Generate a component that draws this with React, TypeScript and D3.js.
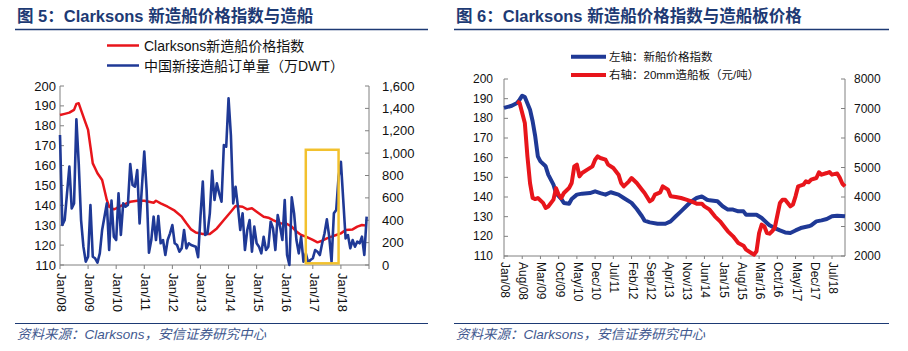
import React from "react";
import * as d3 from "d3";

type Pt = [number, number];

const SANS = "'Liberation Sans', Arial, 'Noto Sans CJK SC', sans-serif";
const NAVY = "#1d3a74";
const RED = "#e8151b";
const BLUE = "#1f3996";
const AXIS = "#808080";

// months are counted from Jan 2008 (0 = Jan/08)

// ---- 图 5 ----
const yearLabels = ["Jan/08", "Jan/09", "Jan/10", "Jan/11", "Jan/12", "Jan/13", "Jan/14", "Jan/15", "Jan/16", "Jan/17", "Jan/18"];
const indexTicks5 = [110, 120, 130, 140, 150, 160, 170, 180, 190, 200];
const orderTicks = [0, 200, 400, 600, 800, 1000, 1200, 1400, 1600];

const clarksons5: Pt[] = [
  [0, 185.4], [2, 186], [4, 186.6], [6, 188], [7, 191], [8, 191.3], [9, 187.9], [11, 181.2], [12, 177.9],
  [13, 169.5], [14, 161.1], [15, 158.6], [16, 156.1], [18, 152.7], [19, 147.7], [20, 142.7], [21, 139.3],
  [23, 138], [24, 138.5], [26, 139.7], [28, 140.7], [30, 141.8], [33, 142.3], [36, 142.3], [38, 141.8],
  [40, 141.3], [41, 142.3], [43, 141], [46, 139.3], [49, 137.3], [52, 134.3], [54, 131], [56, 127.9],
  [58, 126.3], [61, 125.6], [64, 125.6], [67, 128.4], [70, 132.6], [73, 136.8], [75, 139.7], [78, 139.3],
  [80, 138], [82, 138.5], [84, 136.8], [87, 134.3], [89, 133.8], [91, 132.6], [94, 131], [97, 130.6],
  [99, 129.3], [101, 126.8], [103, 125.1], [105, 124.3], [108, 122.6], [110, 121.4], [112, 122.2],
  [114, 123.4], [116, 124.3], [118, 125.1], [120, 125.9], [122, 127.6], [125, 127.9], [127, 129.3],
  [129, 130.1], [131, 129.8],
];

const chinaOrders: Pt[] = [
  [0, 1162], [1, 357], [2, 402], [4, 879], [5, 506], [6, 551], [7, 1302], [8, 908], [9, 402], [10, 164],
  [11, 30], [12, 74], [13, 536], [14, 74], [15, 60], [16, 21], [17, 104], [18, 313], [20, 551], [21, 134],
  [22, 575], [23, 253], [24, 223], [25, 640], [26, 268], [27, 551], [28, 521], [29, 536], [30, 903],
  [31, 715], [32, 700], [33, 849], [34, 372], [35, 700], [36, 1013], [37, 670], [38, 110], [39, 223],
  [40, 432], [41, 223], [42, 438], [43, 194], [44, 223], [45, 89], [46, 223], [47, 283], [48, 357],
  [49, 194], [50, 179], [51, 119], [52, 149], [53, 313], [54, 149], [55, 194], [56, 179], [58, 164],
  [59, 69], [60, 432], [61, 745], [62, 268], [63, 283], [64, 462], [65, 843], [66, 581], [67, 730],
  [68, 640], [69, 566], [70, 1072], [71, 1057], [72, 1489], [73, 1162], [74, 551], [75, 700], [76, 521],
  [77, 313], [78, 462], [79, 134], [80, 313], [81, 402], [82, 119], [83, 343], [84, 194], [85, 164],
  [86, 104], [87, 253], [88, 134], [89, 164], [90, 387], [91, 328], [92, 134], [93, 447], [94, 343],
  [95, 223], [96, 581], [97, 89], [98, 0], [99, 605], [100, 462], [101, 223], [102, 104], [103, 253],
  [104, 30], [105, 104], [106, 21], [107, 45], [108, 60], [109, 134], [110, 119], [111, 89], [112, 194],
  [113, 283], [114, 408], [115, 253], [116, 30], [117, 462], [118, 492], [119, 789], [120, 923],
  [121, 581], [122, 238], [123, 268], [124, 149], [125, 223], [126, 164], [127, 209], [128, 194],
  [129, 253], [130, 89], [131, 432],
];

const highlight = { from: 105, to: 119, top: 1030, bottom: 15 };

// ---- 图 6 ----
const monthLabels6 = ["Jan/08", "Aug/08", "Mar/09", "Oct/09", "May/10", "Dec/10", "Jul/11", "Feb/12", "Sep/12", "Apr/13", "Nov/13", "Jun/14", "Jan/15", "Aug/15", "Mar/16", "Oct/16", "May/17", "Dec/17", "Jul/18"];
const indexTicks6 = [110, 120, 130, 140, 150, 160, 170, 180, 190, 200];
const plateTicks = [2000, 3000, 4000, 5000, 6000, 7000, 8000];

const clarksons6: Pt[] = [
  [0, 185.3], [3, 186.4], [5, 187.8], [6, 189.5], [7, 191.5], [8, 190.8], [10, 184.4], [11, 178.5],
  [12, 170.8], [13, 160.7], [14, 158.1], [16, 155.6], [17, 151.4], [19, 146.3], [20, 142], [22, 139],
  [23, 137], [25, 136.6], [26, 139], [28, 141.2], [30, 141.7], [33, 142], [35, 142.9], [37, 142],
  [39, 141.2], [41, 142.4], [44, 141.2], [46, 139.5], [49, 137], [51, 133.9], [53, 130.2], [54, 128],
  [56, 127.1], [59, 126.4], [62, 126.4], [64, 127.6], [66, 130.2], [68, 132.7], [70, 135.3], [72, 137.8],
  [74, 139.5], [76, 140.3], [78, 138.6], [79, 138.3], [82, 137.8], [84, 135.3], [86, 133.6], [88, 133.6],
  [90, 132.7], [92, 132.7], [93, 131], [95, 131], [97, 131], [99, 129.3], [101, 126.8], [102, 125.6],
  [104, 124.2], [106, 123], [108, 122], [110, 121.7], [112, 123], [114, 124.2], [117, 125.1], [118, 125.6],
  [120, 127.6], [122, 128.1], [124, 128.8], [126, 130.2], [128, 130.5], [131, 130.2],
];

const plate20mm: Pt[] = [
  [5, 7240], [6, 7190], [7, 6850], [8, 6510], [9, 5380], [10, 4470], [11, 3970], [12, 3930], [13, 3966],
  [15, 3800], [16, 3630], [17, 3680], [19, 3910], [20, 4300], [21, 4080], [22, 3966], [23, 4136],
  [25, 4305], [26, 4474], [27, 5039], [28, 5096], [29, 4700], [30, 4813], [32, 4926], [34, 5039],
  [35, 5265], [36, 5378], [37, 5322], [39, 5265], [40, 5096], [42, 4983], [44, 4757], [45, 4474],
  [46, 4361], [48, 4531], [49, 4644], [51, 4474], [53, 4248], [54, 4136], [56, 3853], [57, 3909],
  [58, 4079], [60, 4158], [61, 4361], [63, 4248], [64, 4022], [66, 4000], [68, 3966], [70, 3909],
  [72, 3853], [74, 3774], [76, 3774], [77, 3683], [79, 3570], [81, 3344], [83, 3175], [85, 2949],
  [86, 2836], [88, 2666], [90, 2440], [92, 2350], [93, 2214], [95, 2101], [96, 2045], [97, 2160],
  [98, 2779], [99, 3062], [100, 3006], [101, 2779], [102, 2757], [103, 2836], [104, 2949], [106, 3796],
  [107, 3909], [108, 3909], [110, 3683], [111, 3740], [112, 4022], [113, 4361], [115, 4418], [116, 4531],
  [117, 4497], [118, 4587], [120, 4644], [121, 4836], [122, 4757], [124, 4813], [125, 4847], [126, 4757],
  [128, 4800], [129, 4650], [130, 4450], [131, 4360],
];

function Header({ x, w, title }: { x: number; w: number; title: string }) {
  return (
    <g>
      <text x={x + 2} y={22} fontFamily={SANS} fontWeight="bold" fontSize={16.5} fill={NAVY}>{title}</text>
      <line x1={x} x2={x + w} y1={29.5} y2={29.5} stroke={NAVY} strokeWidth={1.5} />
      <line x1={x} x2={x + w} y1={323.5} y2={323.5} stroke={NAVY} strokeWidth={1.2} />
      <text x={x + 2} y={339} fontFamily={SANS} fontStyle="italic" fontSize={13.5} fill="#42598f">
        资料来源：Clarksons，安信证券研究中心
      </text>
    </g>
  );
}

function Chart5() {
  const x = d3.scaleLinear().domain([0, 132]).range([60, 369]);
  const yL = d3.scaleLinear().domain([110, 200]).range([265, 86]);
  const yR = d3.scaleLinear().domain([0, 1600]).range([265, 86]);
  const redLine = d3.line<Pt>().x((d) => x(d[0])).y((d) => yL(d[1]));
  const blueLine = d3.line<Pt>().x((d) => x(d[0])).y((d) => yR(d[1]));
  const ticksX = d3.range(0, 133, 12);
  return (
    <g fontFamily={SANS}>
      <Header x={15} w={413} title="图 5：Clarksons 新造船价格指数与造船" />
      {/* legend */}
      <line x1={107} x2={139} y1={45.5} y2={45.5} stroke={RED} strokeWidth={2.5} />
      <text x={144} y={45.5} dominantBaseline="central" fontSize={14} fill="#111">Clarksons新造船价格指数</text>
      <line x1={107} x2={139} y1={65.5} y2={65.5} stroke={BLUE} strokeWidth={2.5} />
      <text x={144} y={65.5} dominantBaseline="central" fontSize={14} fill="#111">中国新接造船订单量（万DWT）</text>
      {/* axes */}
      <line x1={x(0)} x2={x(0)} y1={86} y2={265} stroke={AXIS} />
      <line x1={x(132)} x2={x(132)} y1={86} y2={265} stroke={AXIS} />
      <line x1={x(0)} x2={x(132)} y1={265} y2={265} stroke={AXIS} />
      {indexTicks5.map((t) => (
        <g key={t}>
          <line x1={x(0)} x2={x(0) + 4} y1={yL(t)} y2={yL(t)} stroke={AXIS} />
          <text x={56} y={yL(t)} textAnchor="end" dominantBaseline="central" fontSize={13} fill="#111">{t}</text>
        </g>
      ))}
      {orderTicks.map((t) => (
        <g key={t}>
          <line x1={x(132) - 4} x2={x(132)} y1={yR(t)} y2={yR(t)} stroke={AXIS} />
          <text x={382} y={yR(t)} dominantBaseline="central" fontSize={13} fill="#111">{d3.format(",")(t)}</text>
        </g>
      ))}
      {ticksX.map((m, i) => (
        <g key={m}>
          <line x1={x(m)} x2={x(m)} y1={265} y2={269} stroke={AXIS} />
          {yearLabels[i] && (
            <text transform={`translate(${x(m) + 1.5},273) rotate(90)`} dominantBaseline="central" fontSize={13} fill="#111">
              {yearLabels[i]}
            </text>
          )}
        </g>
      ))}
      <path d={redLine(clarksons5) || ""} fill="none" stroke={RED} strokeWidth={2.5} strokeLinejoin="round" />
      <path d={blueLine(chinaOrders) || ""} fill="none" stroke={BLUE} strokeWidth={2.6} strokeLinejoin="round" />
      <rect
        x={x(highlight.from)}
        y={yR(highlight.top)}
        width={x(highlight.to) - x(highlight.from)}
        height={yR(highlight.bottom) - yR(highlight.top)}
        fill="none"
        stroke="#f2c12e"
        strokeWidth={2.5}
      />
    </g>
  );
}

function Chart6() {
  const x = d3.scaleLinear().domain([0, 131]).range([504, 845]);
  const yL = d3.scaleLinear().domain([110, 200]).range([256, 79]);
  const yR = d3.scaleLinear().domain([2000, 8000]).range([256, 79]);
  const blueLine = d3.line<Pt>().x((d) => x(d[0])).y((d) => yL(d[1]));
  const redLine = d3.line<Pt>().x((d) => x(d[0])).y((d) => yR(d[1]));
  return (
    <g fontFamily={SANS}>
      <Header x={454} w={435} title="图 6：Clarksons 新造船价格指数与造船板价格" />
      <line x1={571} x2={606} y1={56.7} y2={56.7} stroke={BLUE} strokeWidth={4} />
      <text x={609} y={56.7} dominantBaseline="central" fontSize={11.5} fill="#111">左轴：新船价格指数</text>
      <line x1={571} x2={606} y1={75} y2={75} stroke={RED} strokeWidth={4} />
      <text x={609} y={75} dominantBaseline="central" fontSize={11.5} fill="#111">右轴：20mm造船板（元/吨）</text>
      <line x1={504} x2={504} y1={79} y2={256} stroke={AXIS} />
      <line x1={845} x2={845} y1={79} y2={256} stroke={AXIS} />
      <line x1={504} x2={845} y1={256} y2={256} stroke={AXIS} />
      {indexTicks6.map((t) => (
        <g key={t}>
          <line x1={504} x2={508} y1={yL(t)} y2={yL(t)} stroke={AXIS} />
          <text x={493} y={yL(t)} textAnchor="end" dominantBaseline="central" fontSize={12} fill="#111">{t}</text>
        </g>
      ))}
      {plateTicks.map((t) => (
        <g key={t}>
          <line x1={841} x2={845} y1={yR(t)} y2={yR(t)} stroke={AXIS} />
          <text x={854} y={yR(t)} dominantBaseline="central" fontSize={12} fill="#111">{t}</text>
        </g>
      ))}
      {monthLabels6.map((lab, i) => (
        <g key={lab}>
          <line x1={x(i * 7)} x2={x(i * 7)} y1={256} y2={259} stroke={AXIS} />
          <text transform={`translate(${x(i * 7) + 1},262) rotate(90)`} dominantBaseline="central" fontSize={12} fill="#111">
            {lab}
          </text>
        </g>
      ))}
      <path d={blueLine(clarksons6) || ""} fill="none" stroke={BLUE} strokeWidth={4} strokeLinejoin="round" />
      <path d={redLine(plate20mm) || ""} fill="none" stroke={RED} strokeWidth={4} strokeLinejoin="round" />
    </g>
  );
}

export default function App() {
  return (
    <svg
      width={908}
      height={351}
      style={{ position: "absolute", left: 0, top: 0, background: "#fff" }}
    >
      <Chart5 />
      <Chart6 />
    </svg>
  );
}
